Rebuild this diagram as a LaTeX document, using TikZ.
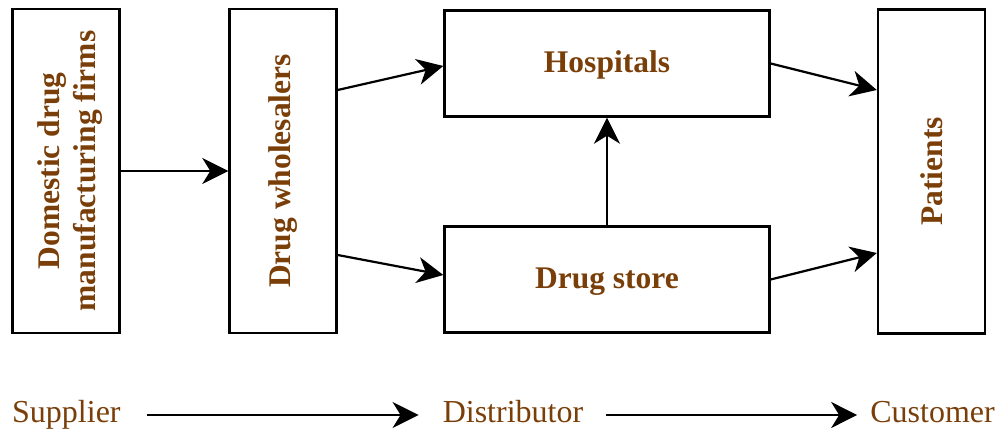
\documentclass[tikz,border=0pt]{standalone}
\usepackage{graphicx}
\usepackage{fontspec}
\setmainfont{Liberation Serif}
\usetikzlibrary{arrows.meta}
\definecolor{brownish}{RGB}{122,62,8}

\begin{document}
\begin{tikzpicture}[x=1pt, y=-1pt,
    box/.style={draw=black, line width=2.4pt, inner sep=0pt, text=brownish,
        font=\fontsize{31.5}{35}\selectfont\bfseries},
    flat/.style={text height=26pt, text depth=7pt},
    arr/.style={line width=2.2pt, -{Stealth[length=26pt, width=26pt, inset=8pt]}},
    lbl/.style={inner sep=0pt, text height=22pt, text depth=7pt, text=brownish,
        font=\fontsize{32}{36}\selectfont}]
    \useasboundingbox (0,0) rectangle (998,435);
    % the five boxes
    \node[box, minimum width=107pt, minimum height=324pt] (dom) at (66,171)
        {\hspace*{9pt}\rotatebox{90}{\begin{tabular}{@{}c@{}}Domestic drug\\manufacturing firms\end{tabular}}};
    \node[box, minimum width=107pt, minimum height=324pt] (whole) at (283,171)
        {\rotatebox{90}{Drug wholesalers}};
    \node[box, flat, minimum width=325pt, minimum height=106pt] (hosp) at (607,63.5) {Hospitals};
    \node[box, flat, minimum width=325pt, minimum height=106pt] (store) at (607,279.5) {Drug store};
    \node[box, minimum width=107pt, minimum height=324pt] (pat) at (931.5,171.5)
        {\rotatebox{90}{Patients}};
    % flows between them
    \draw[arr] (dom.east) -- (whole.west);
    \draw[arr] ([yshift=81pt]whole.east) -- ([yshift=-2.5pt]hosp.west);
    \draw[arr] ([yshift=-84pt]whole.east) -- ([yshift=4.5pt]store.west);
    \draw[arr] (store.north) -- (hosp.south);
    \draw[arr] (hosp.east) -- ([yshift=81.5pt]pat.west);
    \draw[arr] (store.east) -- ([yshift=-81.5pt]pat.west);
    % chain along the bottom
    \node[lbl, anchor=west] (sup) at (12,415) {Supplier};
    \node[lbl] (dist) at (513,415) {Distributor};
    \node[lbl, anchor=east] (cust) at (995,415) {Customer};
    \draw[arr, shorten <=26pt, shorten >=24pt] (sup.east) -- (dist.west);
    \draw[arr, shorten <=23pt, shorten >=13pt] (dist.east) -- (cust.west);
\end{tikzpicture}
\end{document}
